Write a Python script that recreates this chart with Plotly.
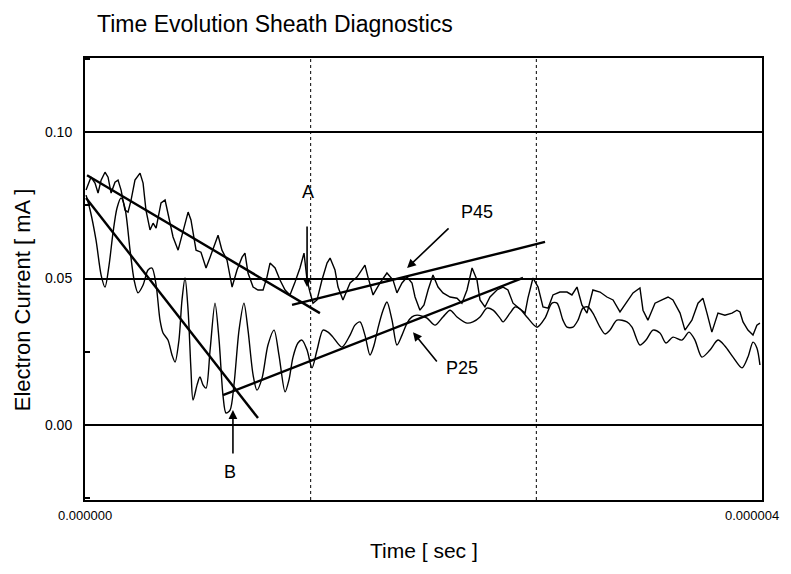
import numpy as np
import plotly.graph_objects as go

# ---------------- data (time in microseconds, current in mA) ----------------
p45_t_us = [0.006, 0.035, 0.059, 0.077, 0.095, 0.118, 0.136, 0.154, 0.177, 0.195,
            0.213, 0.236, 0.254, 0.272, 0.295, 0.325, 0.343, 0.360, 0.384, 0.402,
            0.420, 0.449, 0.473, 0.490, 0.520, 0.550, 0.579, 0.609, 0.626, 0.656,
            0.685, 0.715, 0.739, 0.768, 0.786, 0.809, 0.839, 0.869, 0.898, 0.928,
            0.945, 0.963, 0.993, 1.022, 1.052, 1.075, 1.093, 1.123, 1.152, 1.182,
            1.211, 1.241, 1.270, 1.294, 1.312, 1.329, 1.347, 1.371, 1.400, 1.430,
            1.448, 1.477, 1.495, 1.524, 1.566, 1.607, 1.637, 1.654, 1.672, 1.702,
            1.743, 1.784, 1.820, 1.843, 1.873, 1.903, 1.932, 1.950, 1.979, 2.003,
            2.027, 2.056, 2.086, 2.115, 2.157, 2.198, 2.227, 2.257, 2.287, 2.316,
            2.334, 2.363, 2.393, 2.434, 2.470, 2.499, 2.529, 2.558, 2.582, 2.600,
            2.617, 2.647, 2.677, 2.706, 2.736, 2.765, 2.806, 2.848, 2.877, 2.907,
            2.936, 2.966, 3.001, 3.043, 3.084, 3.120, 3.161, 3.202, 3.238, 3.279,
            3.297, 3.326, 3.368, 3.409, 3.445, 3.474, 3.516, 3.545, 3.586, 3.622,
            3.651, 3.675, 3.704, 3.740, 3.781, 3.823, 3.852, 3.870, 3.888, 3.917,
            3.947, 3.970, 3.988]
p45_mA = [0.0802, 0.0846, 0.0826, 0.0792, 0.0836, 0.0863, 0.0846, 0.0792, 0.0829, 0.0836,
          0.0802, 0.0734, 0.0727, 0.0768, 0.0836, 0.0860, 0.0826, 0.0734, 0.0666, 0.0689,
          0.0672, 0.0758, 0.0768, 0.0724, 0.0642, 0.0597, 0.0666, 0.0727, 0.0700, 0.0597,
          0.0590, 0.0536, 0.0573, 0.0621, 0.0648, 0.0597, 0.0563, 0.0471, 0.0529, 0.0573,
          0.0587, 0.0519, 0.0471, 0.0461, 0.0461, 0.0505, 0.0553, 0.0536, 0.0495, 0.0461,
          0.0444, 0.0488, 0.0536, 0.0587, 0.0495, 0.0454, 0.0416, 0.0427, 0.0495, 0.0553,
          0.0570, 0.0529, 0.0471, 0.0427, 0.0485, 0.0505, 0.0529, 0.0546, 0.0505, 0.0444,
          0.0485, 0.0519, 0.0495, 0.0451, 0.0485, 0.0505, 0.0485, 0.0437, 0.0392, 0.0410,
          0.0461, 0.0512, 0.0471, 0.0451, 0.0437, 0.0433, 0.0416, 0.0461, 0.0536, 0.0495,
          0.0427, 0.0403, 0.0437, 0.0461, 0.0471, 0.0461, 0.0416, 0.0403, 0.0392, 0.0382,
          0.0433, 0.0502, 0.0471, 0.0403, 0.0399, 0.0444, 0.0454, 0.0454, 0.0444, 0.0471,
          0.0410, 0.0382, 0.0461, 0.0454, 0.0437, 0.0427, 0.0386, 0.0420, 0.0451, 0.0468,
          0.0392, 0.0358, 0.0416, 0.0427, 0.0437, 0.0427, 0.0382, 0.0324, 0.0358, 0.0416,
          0.0433, 0.0382, 0.0317, 0.0382, 0.0375, 0.0382, 0.0392, 0.0386, 0.0352, 0.0324,
          0.0307, 0.0341, 0.0348]

p25_t_us = [0.006, 0.030, 0.065, 0.095, 0.118, 0.142, 0.165, 0.189, 0.213, 0.236,
            0.266, 0.290, 0.313, 0.343, 0.372, 0.396, 0.420, 0.443, 0.461, 0.490,
            0.514, 0.532, 0.555, 0.573, 0.591, 0.609, 0.626, 0.638, 0.662, 0.679,
            0.697, 0.715, 0.739, 0.768, 0.792, 0.815, 0.833, 0.857, 0.880, 0.910,
            0.939, 0.963, 0.993, 1.016, 1.046, 1.081, 1.117, 1.146, 1.182, 1.205,
            1.229, 1.258, 1.282, 1.312, 1.341, 1.371, 1.406, 1.436, 1.465, 1.518,
            1.566, 1.595, 1.625, 1.654, 1.684, 1.708, 1.731, 1.761, 1.784, 1.814,
            1.843, 1.873, 1.903, 1.932, 1.962, 1.991, 2.021, 2.068, 2.115, 2.157,
            2.198, 2.257, 2.292, 2.334, 2.375, 2.411, 2.452, 2.470, 2.511, 2.541,
            2.570, 2.611, 2.671, 2.718, 2.759, 2.789, 2.824, 2.848, 2.883, 2.913,
            2.942, 2.972, 3.001, 3.043, 3.072, 3.102, 3.143, 3.202, 3.232, 3.279,
            3.315, 3.356, 3.397, 3.433, 3.474, 3.527, 3.569, 3.604, 3.645, 3.693,
            3.740, 3.781, 3.829, 3.882, 3.917, 3.947, 3.970, 3.988]
p25_mA = [0.0785, 0.0734, 0.0631, 0.0512, 0.0471, 0.0546, 0.0655, 0.0741, 0.0775, 0.0741,
          0.0597, 0.0495, 0.0451, 0.0478, 0.0529, 0.0536, 0.0478, 0.0358, 0.0314, 0.0290,
          0.0239, 0.0215, 0.0290, 0.0427, 0.0502, 0.0392, 0.0188, 0.0085, 0.0137, 0.0164,
          0.0137, 0.0126, 0.0256, 0.0416, 0.0290, 0.0102, 0.0041, 0.0051, 0.0137, 0.0324,
          0.0416, 0.0324, 0.0171, 0.0119, 0.0160, 0.0273, 0.0324, 0.0239, 0.0113, 0.0154,
          0.0232, 0.0280, 0.0290, 0.0256, 0.0195, 0.0256, 0.0324, 0.0317, 0.0300, 0.0266,
          0.0307, 0.0341, 0.0352, 0.0307, 0.0239, 0.0273, 0.0331, 0.0392, 0.0420, 0.0358,
          0.0273, 0.0307, 0.0348, 0.0369, 0.0375, 0.0372, 0.0365, 0.0341, 0.0369, 0.0392,
          0.0369, 0.0348, 0.0352, 0.0369, 0.0399, 0.0392, 0.0365, 0.0352, 0.0382, 0.0403,
          0.0396, 0.0369, 0.0334, 0.0365, 0.0416, 0.0416, 0.0358, 0.0334, 0.0334, 0.0358,
          0.0399, 0.0403, 0.0382, 0.0334, 0.0311, 0.0324, 0.0358, 0.0352, 0.0334, 0.0273,
          0.0290, 0.0324, 0.0314, 0.0280, 0.0300, 0.0290, 0.0317, 0.0290, 0.0232, 0.0256,
          0.0290, 0.0270, 0.0232, 0.0195, 0.0232, 0.0283, 0.0263, 0.0205]

# straight-line fits drawn on the figure: (t_start, t_end), (mA_start, mA_end)
fit_p45_down_t = [0.012, 1.388]; fit_p45_down_mA = [0.0853, 0.0382]
fit_p45_up_t = [1.223, 2.718];   fit_p45_up_mA = [0.0410, 0.0625]
fit_p25_down_t = [0.006, 1.022]; fit_p25_down_mA = [0.0775, 0.0024]
fit_p25_up_t = [0.815, 2.588];   fit_p25_up_mA = [0.0102, 0.0502]

y_ticks = [0.00, 0.05, 0.10]
y_tick_labels = ["0.00", "0.05", "0.10"]
x_ticks_us = [0, 4]
x_tick_labels = ["0.000000", "0.000004"]
v_grid_us = [1.3333, 2.6667]

US = 1e-6
FONT = "Liberation Sans Narrow, Arial Narrow, Liberation Sans, Arial, sans-serif"

# page is shown with an 8px body margin, so the figure is 8px smaller
W, H = 783, 566

fig = go.Figure()
fig.add_trace(go.Scatter(x=np.array(p45_t_us) * US, y=p45_mA, mode="lines",
                         line=dict(color="black", width=1.4), name="P45"))
fig.add_trace(go.Scatter(x=np.array(p25_t_us) * US, y=p25_mA, mode="lines",
                         line=dict(color="black", width=1.4, shape="spline", smoothing=0.8),
                         name="P25"))
for tt, vv in [(fit_p45_down_t, fit_p45_down_mA), (fit_p45_up_t, fit_p45_up_mA),
               (fit_p25_down_t, fit_p25_down_mA), (fit_p25_up_t, fit_p25_up_mA)]:
    fig.add_trace(go.Scatter(x=np.array(tt) * US, y=vv, mode="lines",
                             line=dict(color="black", width=2.4), showlegend=False))

# dotted vertical grid lines
for gx in v_grid_us:
    fig.add_shape(type="line", xref="x", yref="paper", x0=gx * US, x1=gx * US, y0=0, y1=1,
                  line=dict(color="black", width=1, dash="dot"), layer="below")

# arrows (head at x,y ; tail at ax,ay)
arrows = [
    dict(x=1.312, y=0.0471, ax=1.312, ay=0.0683),   # A
    dict(x=0.874, y=0.0051, ax=0.874, ay=-0.0102),  # B
    dict(x=1.903, y=0.0536, ax=2.157, ay=0.0676),   # P45
    dict(x=1.938, y=0.0317, ax=2.086, ay=0.0212),   # P25
]
for a in arrows:
    fig.add_annotation(x=a["x"] * US, y=a["y"], ax=a["ax"] * US, ay=a["ay"],
                       xref="x", yref="y", axref="x", ayref="y", text="",
                       showarrow=True, arrowhead=2, arrowsize=1.1, arrowwidth=1.6,
                       arrowcolor="black")

labels = [("A", 1.318, 0.0795), ("B", 0.857, -0.0160),
          ("P45", 2.316, 0.0727), ("P25", 2.227, 0.0195)]
for txt, lx, ly in labels:
    fig.add_annotation(x=lx * US, y=ly, xref="x", yref="y", text=txt, showarrow=False,
                       font=dict(family=FONT, size=18, color="black"))

# x tick labels (the last one is right-aligned so it stays inside the page)
for i, (tv, tl) in enumerate(zip(x_ticks_us, x_tick_labels)):
    last = i == len(x_ticks_us) - 1
    fig.add_annotation(x=tv * US, y=0, xref="x", yref="paper", text=tl, showarrow=False,
                       xanchor="right" if last else "center", yanchor="top",
                       xshift=19 if last else 0, yshift=-6,
                       font=dict(family=FONT, size=13, color="black"))

# axis titles as annotations for exact placement
fig.add_annotation(xref="paper", yref="paper", x=-0.093, y=0.452, text="Electron Current [ mA ]",
                   textangle=-90, showarrow=False, xanchor="center", yanchor="middle",
                   font=dict(family=FONT, size=22, color="black"))
fig.add_annotation(xref="paper", yref="paper", x=0.5, y=-0.115, text="Time [ sec ]",
                   showarrow=False, xanchor="center", yanchor="middle",
                   font=dict(family=FONT, size=21, color="black"))

fig.update_layout(
    width=W, height=H,
    margin=dict(l=77, r=29, t=50, b=74, autoexpand=False),
    paper_bgcolor="white", plot_bgcolor="white",
    showlegend=False,
    title=dict(text="Time Evolution Sheath Diagnostics", x=89 / W, xref="container",
               xanchor="left", y=1 - 16 / H, yref="container", yanchor="middle",
               font=dict(family=FONT, size=23, color="black")),
    font=dict(family=FONT, color="black"),
)
fig.update_xaxes(range=[-0.0002 * US, 4.0002 * US], showticklabels=False, automargin=False,
                 showgrid=False, zeroline=False, showline=True, linecolor="black", linewidth=2,
                 mirror=True, ticks="")
fig.update_yaxes(range=[-0.0256, 0.1253], tickvals=y_ticks, ticktext=y_tick_labels,
                 automargin=False,
                 showgrid=True, gridcolor="black", gridwidth=1.5, zeroline=False,
                 showline=True, linecolor="black", linewidth=2, mirror=True, ticks="",
                 ticklabelstandoff=8, tickfont=dict(family=FONT, size=14, color="black"),
                 minor=dict(dtick=0.025, ticks="inside", ticklen=5, tickcolor="black",
                            tickwidth=1.5, showgrid=False))

fig.write_html("out.html")
